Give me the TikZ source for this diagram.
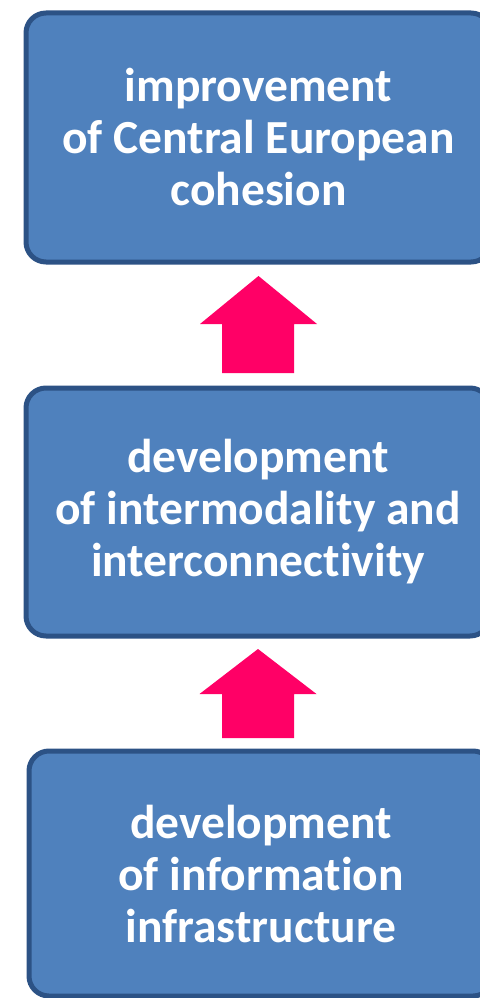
\documentclass[tikz,border=0pt]{standalone}
\usepackage{fontspec}
\setmainfont{Carlito}[Ligatures=NoCommon]
\usetikzlibrary{calc}

\definecolor{boxfill}{RGB}{79,129,189}
\definecolor{boxline}{RGB}{44,82,133}
\definecolor{uppink}{RGB}{255,0,102}

\tikzset{
  goalbox/.style={draw=boxline, fill=boxfill, line width=5pt, rounded corners=20pt,
    inner sep=0pt, outer sep=0pt, align=center, text=white,
    font=\fontsize{47.5}{52}\selectfont\bfseries},
  uparrow/.style={fill=uppink}
}

\begin{document}
\begin{tikzpicture}[x=1pt,y=1pt,yscale=-1,xscale=1]
\useasboundingbox (0,0) rectangle (479,998);

% Boxes
\node [goalbox, minimum width=465pt, minimum height=249pt] (top) at (258.5,137.5)
  {improvement\\of Central European\\cohesion};
\node [goalbox, minimum width=464pt, minimum height=248pt] (mid) at (258,512)
  {development\\of intermodality and\\interconnectivity};
\node [goalbox, minimum width=464pt, minimum height=245pt] (bot) at (261,873.5)
  {development\\of information\\infrastructure};

% Arrow ends
\coordinate (a1tail) at ($(mid.north)+(0,-15)$);
\coordinate (a1tip) at ($(top.south)+(0,14)$);
\coordinate (a2tail) at ($(bot.north)+(-3,-13)$);
\coordinate (a2tip) at ($(mid.south)+(0,13)$);

% Block arrows
\fill [uparrow] (a1tail) -- ++(-36,0) |- ($(a1tip)+(-58.5,48)$) -- (a1tip)
  -- ($(a1tip)+(58.5,48)$) -| ($(a1tail)+(36,0)$) -- cycle;
\fill [uparrow] (a2tail) -- ++(-36,0) |- ($(a2tip)+(-58.5,45)$) -- (a2tip)
  -- ($(a2tip)+(58.5,45)$) -| ($(a2tail)+(36,0)$) -- cycle;

\end{tikzpicture}
\end{document}
